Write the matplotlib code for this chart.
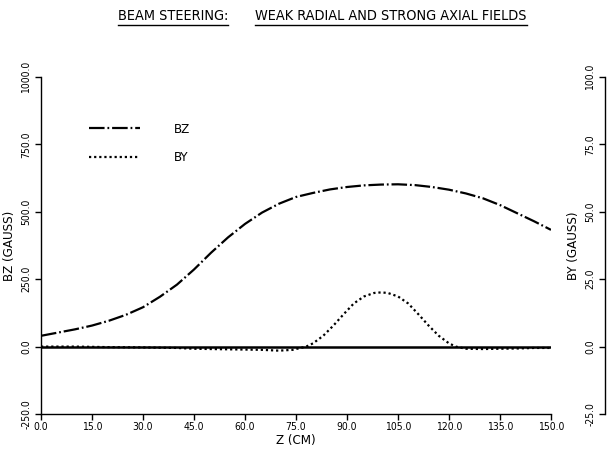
import matplotlib
matplotlib.use("Agg")
import matplotlib.pyplot as plt
from matplotlib.lines import Line2D
from matplotlib.ticker import FormatStrFormatter

plt.rcParams['font.family'] = ['DejaVu Sans']
plt.rcParams['font.stretch'] = 'condensed'
plt.rcParams['font.weight'] = 'light'

# Axial field BZ (gauss) along the beam line
z_bz = [0, 5, 10, 15, 20, 25, 30, 35, 40, 45, 50, 55, 60, 65, 70, 75, 80, 85,
        90, 95, 100, 105, 110, 115, 120, 125, 130, 135, 140, 145, 150]
bz = [40, 52, 64, 78, 96, 118, 146, 185, 230, 286, 348, 405, 455, 497, 530, 555,
      570, 583, 592, 598, 601, 602, 599, 592, 582, 568, 550, 525, 495, 465, 433]

# Radial field BY (gauss) along the beam line
z_by = [0, 10, 20, 30, 40, 45, 50, 55, 60, 65, 70, 74, 78, 80, 83, 86, 89, 92,
        95, 98, 100, 102, 105, 108, 111, 114, 117, 120, 122, 125, 130, 135, 140,
        145, 150]
by = [0.0, 0.0, -0.2, -0.3, -0.5, -0.8, -0.9, -1.0, -1.1, -1.2, -1.5, -1.2, 0.0,
      1.2, 4.0, 7.8, 12.0, 16.0, 18.6, 19.9, 20.1, 19.9, 18.6, 16.0, 12.0, 7.8,
      4.0, 1.2, 0.0, -0.8, -0.9, -0.8, -0.7, -0.5, -0.5]

# Zero reference trace
z_ref = [0, 150]
ref = [0, 0]

x_ticks = [0, 15, 30, 45, 60, 75, 90, 105, 120, 135, 150]
bz_ticks = [-250, 0, 250, 500, 750, 1000]
by_ticks = [-25, 0, 25, 50, 75, 100]

W, H = 609, 454
fig = plt.figure(figsize=(W / 100, H / 100), dpi=100)

ax_l, ax_r, ax_t, ax_b = 41, 551, 77, 414
ax = fig.add_axes([ax_l / W, 1 - ax_b / H, (ax_r - ax_l) / W, (ax_b - ax_t) / H])
ax.set_xlim(0, 150)
ax.set_ylim(-250, 1000)
for s in ('top', 'right'):
    ax.spines[s].set_visible(False)
for s in ('left', 'bottom'):
    ax.spines[s].set_linewidth(1.0)

dash_z = (7, 1.3, 0.8, 1.3)
dot_y = (0, (1.0, 1.3))
ax.plot(z_ref, ref, color='black', lw=1.8, solid_capstyle='butt')
ax.plot(z_bz, bz, color='black', lw=1.6, linestyle=(0, dash_z))

# BY on the secondary scale, mapped through a separate axes sharing x
ax_by = ax.twinx()
ax_by.set_ylim(-25, 100)
ax_by.set_xlim(0, 150)
ax_by.axis('off')
ax_by.plot(z_by, by, color='black', lw=1.6, linestyle=dot_y)

ax.set_xticks(x_ticks)
ax.set_yticks(bz_ticks)
ax.xaxis.set_major_formatter(FormatStrFormatter('%.1f'))
ax.yaxis.set_major_formatter(FormatStrFormatter('%.1f'))
ax.tick_params(axis='both', direction='out', length=4, width=1.0, labelsize=7.5,
               pad=2)
ax.tick_params(axis='y', labelrotation=90, pad=3)
for lab in ax.get_yticklabels():
    lab.set_va('center')

ax.set_xlabel('Z (CM)', fontsize=9.5, labelpad=1)
ax.set_ylabel('BZ (GAUSS)', fontsize=9.5, labelpad=4)

# Detached right-hand scale for BY
rx = 605
ax_sc = fig.add_axes([rx / W, 1 - ax_b / H, 0.0001, (ax_b - ax_t) / H])
ax_sc.set_ylim(-25, 100)
ax_sc.set_xticks([])
ax_sc.patch.set_visible(False)
for s in ('top', 'right', 'bottom'):
    ax_sc.spines[s].set_visible(False)
ax_sc.spines['left'].set_linewidth(1.0)
ax_sc.set_yticks(by_ticks)
ax_sc.yaxis.set_major_formatter(FormatStrFormatter('%.1f'))
ax_sc.tick_params(axis='y', direction='out', length=4, width=1.0, labelsize=7.5,
                  pad=3, labelrotation=90)
for lab in ax_sc.get_yticklabels():
    lab.set_va('center')
ax_sc.set_ylabel('BY (GAUSS)', fontsize=9.5, labelpad=4)

# Legend
leg_handles = [Line2D([], [], color='black', lw=1.6, linestyle=(0, dash_z)),
               Line2D([], [], color='black', lw=1.6, linestyle=dot_y)]
ax.legend(leg_handles, ['BZ', 'BY'], loc='upper left', frameon=False,
          bbox_to_anchor=(0.07, 0.9), handlelength=3.9, handletextpad=2.6,
          labelspacing=1.2, fontsize=9.5)

# Underlined title
title_y = 1 - 16 / H
t1 = fig.text(118 / W, title_y, 'BEAM STEERING:', fontsize=10.4, va='center',
              ha='left')
t2 = fig.text(255 / W, title_y, 'WEAK RADIAL AND STRONG AXIAL FIELDS',
              fontsize=10.4, va='center', ha='left')
fig.canvas.draw()
r = fig.canvas.get_renderer()
for t in (t1, t2):
    bb = t.get_window_extent(renderer=r)
    y_ul = (bb.y0 - 2) / H
    fig.add_artist(Line2D([bb.x0 / W, bb.x1 / W], [y_ul, y_ul],
                          transform=fig.transFigure, color='black', lw=1.0))

fig.savefig('out.png', dpi=100)
